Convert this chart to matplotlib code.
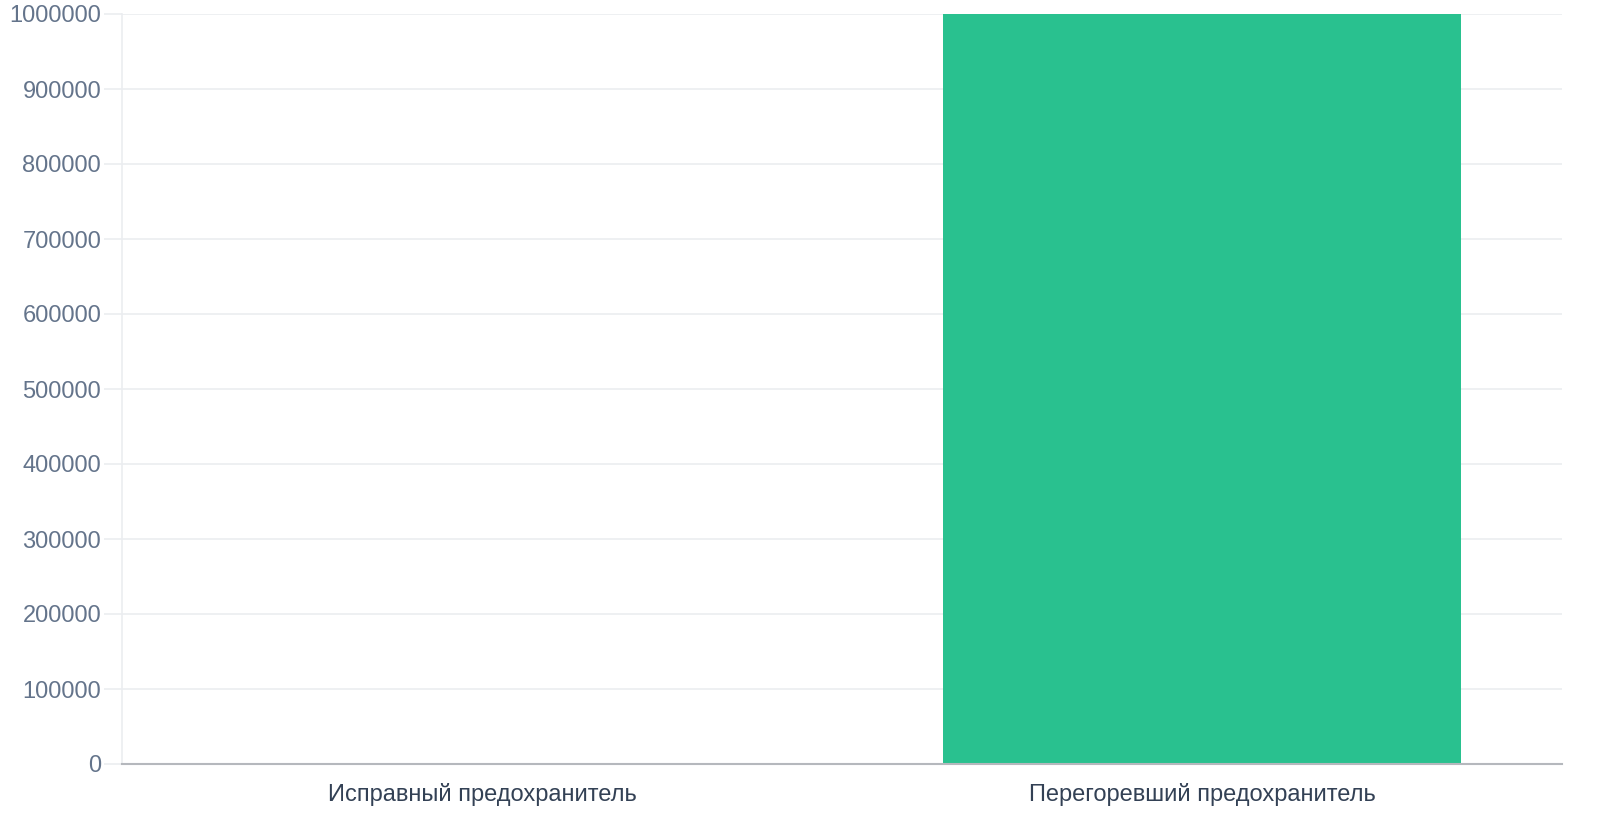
import matplotlib.pyplot as plt

categories = ["Исправный предохранитель", "Перегоревший предохранитель"]
values = [0, 1000000]
y_ticks = [0, 100000, 200000, 300000, 400000, 500000, 600000, 700000, 800000, 900000, 1000000]

plt.rcParams['font.family'] = ['Liberation Sans', 'DejaVu Sans']

fig = plt.figure(figsize=(16, 8.4), dpi=100)
ax = fig.add_axes([122 / 1600, 76 / 840, 1440 / 1600, 750 / 840])

x = range(len(categories))
ax.bar(x, values, width=0.72, color='#29c18f', zorder=3)

ax.set_xlim(-0.5, len(categories) - 0.5)
ax.set_ylim(0, 1000000)
ax.set_yticks(y_ticks)
ax.set_yticklabels([str(v) for v in y_ticks])
ax.set_xticks(list(x))
ax.set_xticklabels(categories)

ax.grid(axis='y', color='#ebedf0', linewidth=1.2, zorder=0)
ax.tick_params(axis='y', length=13, width=1.2, color='#ebedf0', pad=2,
               labelsize=17, labelcolor='#64748b')
ax.tick_params(axis='x', length=0, pad=14, labelsize=17, labelcolor='#334155')

for side in ('top', 'right'):
    ax.spines[side].set_visible(False)
ax.spines['left'].set_color('#ebedf0')
ax.spines['left'].set_linewidth(1.2)
ax.spines['bottom'].set_color('#b5b8bd')
ax.spines['bottom'].set_linewidth(1.5)
ax.spines['bottom'].set_zorder(4)

fig.savefig('out.png', dpi=100)
